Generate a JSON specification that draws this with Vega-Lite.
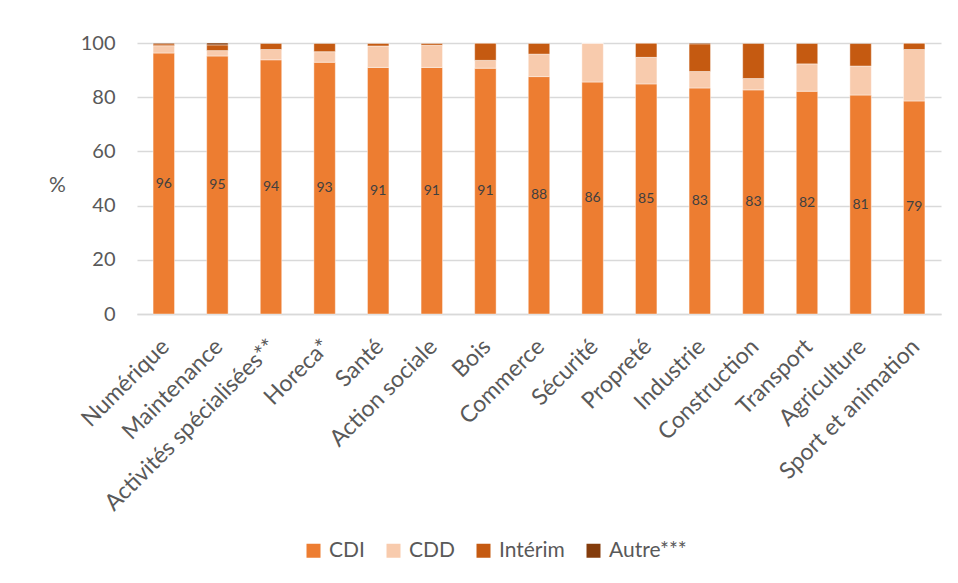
{
  "$schema": "https://vega.github.io/schema/vega-lite/v6.json",
  "autosize": {"type": "none"},
  "width": 804,
  "height": 271,
  "padding": {"left": 137, "top": 43, "right": 17, "bottom": 269},
  "background": "white",
  "config": {
    "view": {"stroke": null},
    "font": "Lato",
    "axis": {"labelFont": "Lato", "labelColor": "#595959", "titleFont": "Lato", "titleColor": "#595959"},
    "legend": {"labelFont": "Lato", "labelColor": "#595959"}
  },
  "data": {
    "values": [
      {"secteur": "Numérique", "type": "CDI", "valeur": 96.3},
      {"secteur": "Numérique", "type": "CDD", "valeur": 2.7},
      {"secteur": "Numérique", "type": "Intérim", "valeur": 0.7},
      {"secteur": "Numérique", "type": "Autre***", "valeur": 0.3},
      {"secteur": "Maintenance", "type": "CDI", "valeur": 95.2},
      {"secteur": "Maintenance", "type": "CDD", "valeur": 2.0},
      {"secteur": "Maintenance", "type": "Intérim", "valeur": 2.1},
      {"secteur": "Maintenance", "type": "Autre***", "valeur": 0.7},
      {"secteur": "Activités spécialisées**", "type": "CDI", "valeur": 93.8},
      {"secteur": "Activités spécialisées**", "type": "CDD", "valeur": 3.8},
      {"secteur": "Activités spécialisées**", "type": "Intérim", "valeur": 2.3},
      {"secteur": "Activités spécialisées**", "type": "Autre***", "valeur": 0.1},
      {"secteur": "Horeca*", "type": "CDI", "valeur": 92.9},
      {"secteur": "Horeca*", "type": "CDD", "valeur": 3.9},
      {"secteur": "Horeca*", "type": "Intérim", "valeur": 3.1},
      {"secteur": "Horeca*", "type": "Autre***", "valeur": 0.1},
      {"secteur": "Santé", "type": "CDI", "valeur": 91.0},
      {"secteur": "Santé", "type": "CDD", "valeur": 7.9},
      {"secteur": "Santé", "type": "Intérim", "valeur": 1.0},
      {"secteur": "Santé", "type": "Autre***", "valeur": 0.1},
      {"secteur": "Action sociale", "type": "CDI", "valeur": 91.0},
      {"secteur": "Action sociale", "type": "CDD", "valeur": 8.2},
      {"secteur": "Action sociale", "type": "Intérim", "valeur": 0.7},
      {"secteur": "Action sociale", "type": "Autre***", "valeur": 0.1},
      {"secteur": "Bois", "type": "CDI", "valeur": 90.7},
      {"secteur": "Bois", "type": "CDD", "valeur": 2.9},
      {"secteur": "Bois", "type": "Intérim", "valeur": 6.4},
      {"secteur": "Bois", "type": "Autre***", "valeur": 0.0},
      {"secteur": "Commerce", "type": "CDI", "valeur": 87.6},
      {"secteur": "Commerce", "type": "CDD", "valeur": 8.3},
      {"secteur": "Commerce", "type": "Intérim", "valeur": 4.0},
      {"secteur": "Commerce", "type": "Autre***", "valeur": 0.1},
      {"secteur": "Sécurité", "type": "CDI", "valeur": 85.6},
      {"secteur": "Sécurité", "type": "CDD", "valeur": 14.4},
      {"secteur": "Sécurité", "type": "Intérim", "valeur": 0.0},
      {"secteur": "Sécurité", "type": "Autre***", "valeur": 0.0},
      {"secteur": "Propreté", "type": "CDI", "valeur": 84.9},
      {"secteur": "Propreté", "type": "CDD", "valeur": 9.8},
      {"secteur": "Propreté", "type": "Intérim", "valeur": 5.3},
      {"secteur": "Propreté", "type": "Autre***", "valeur": 0.0},
      {"secteur": "Industrie", "type": "CDI", "valeur": 83.4},
      {"secteur": "Industrie", "type": "CDD", "valeur": 6.1},
      {"secteur": "Industrie", "type": "Intérim", "valeur": 10.2},
      {"secteur": "Industrie", "type": "Autre***", "valeur": 0.3},
      {"secteur": "Construction", "type": "CDI", "valeur": 82.7},
      {"secteur": "Construction", "type": "CDD", "valeur": 4.2},
      {"secteur": "Construction", "type": "Intérim", "valeur": 13.0},
      {"secteur": "Construction", "type": "Autre***", "valeur": 0.1},
      {"secteur": "Transport", "type": "CDI", "valeur": 82.2},
      {"secteur": "Transport", "type": "CDD", "valeur": 10.1},
      {"secteur": "Transport", "type": "Intérim", "valeur": 7.6},
      {"secteur": "Transport", "type": "Autre***", "valeur": 0.1},
      {"secteur": "Agriculture", "type": "CDI", "valeur": 80.8},
      {"secteur": "Agriculture", "type": "CDD", "valeur": 10.7},
      {"secteur": "Agriculture", "type": "Intérim", "valeur": 8.3},
      {"secteur": "Agriculture", "type": "Autre***", "valeur": 0.2},
      {"secteur": "Sport et animation", "type": "CDI", "valeur": 78.6},
      {"secteur": "Sport et animation", "type": "CDD", "valeur": 19.0},
      {"secteur": "Sport et animation", "type": "Intérim", "valeur": 2.4},
      {"secteur": "Sport et animation", "type": "Autre***", "valeur": 0.0}
    ]
  },
  "transform": [
    {"calculate": "indexof(['CDI','CDD','Intérim','Autre***'], datum.type)", "as": "ordre"}
  ],
  "encoding": {
    "x": {
      "field": "secteur",
      "type": "nominal",
      "sort": null,
      "scale": {"paddingInner": 0.6, "paddingOuter": 0.3},
      "axis": {
        "title": null,
        "labelAngle": -45,
        "labelFontSize": 23,
        "labelPadding": 21,
        "labelOffset": -6,
        "labelLimit": 0,
        "ticks": false,
        "domain": true,
        "domainColor": "#D9D9D9",
        "domainWidth": 1.3
      }
    }
  },
  "layer": [
    {
      "mark": {"type": "bar", "stroke": "white", "strokeWidth": 0.6, "strokeOpacity": 0.7},
      "encoding": {
        "y": {
          "field": "valeur",
          "type": "quantitative",
          "stack": "zero",
          "scale": {"domain": [0, 100], "nice": false},
          "axis": {
            "title": "%",
            "titleAngle": 0,
            "titleFontSize": 21,
            "titleFontWeight": "normal",
            "titleX": -80,
            "titleY": 142,
            "titleAlign": "center",
            "titleBaseline": "middle",
            "values": [0, 20, 40, 60, 80, 100],
            "labelFontSize": 20,
            "labelPadding": 22,
            "ticks": false,
            "domain": false,
            "grid": true,
            "gridColor": "#D9D9D9",
            "gridWidth": 1.3
          }
        },
        "color": {
          "field": "type",
          "type": "nominal",
          "scale": {
            "domain": ["CDI", "CDD", "Intérim", "Autre***"],
            "range": ["#ED7D31", "#F8CBAD", "#C55A11", "#843C0C"]
          },
          "legend": {
            "title": null,
            "orient": "none",
            "legendX": 166,
            "legendY": 497,
            "direction": "horizontal",
            "symbolType": "square",
            "symbolSize": 196,
            "symbolStrokeWidth": 0,
            "labelFontSize": 21,
            "labelOffset": 5,
            "columnPadding": 18
          }
        },
        "order": {"field": "ordre", "type": "quantitative"}
      }
    },
    {
      "transform": [{"filter": "datum.type === 'CDI'"}],
      "mark": {"type": "text", "font": "Lato", "fontSize": 14, "color": "#404040", "baseline": "middle"},
      "encoding": {
        "y": {
          "field": "valeur",
          "type": "quantitative",
          "scale": {"domain": [0, 200], "nice": false},
          "axis": null
        },
        "text": {"field": "valeur", "type": "quantitative", "format": ".0f"}
      }
    }
  ],
  "resolve": {"scale": {"y": "independent"}}
}
